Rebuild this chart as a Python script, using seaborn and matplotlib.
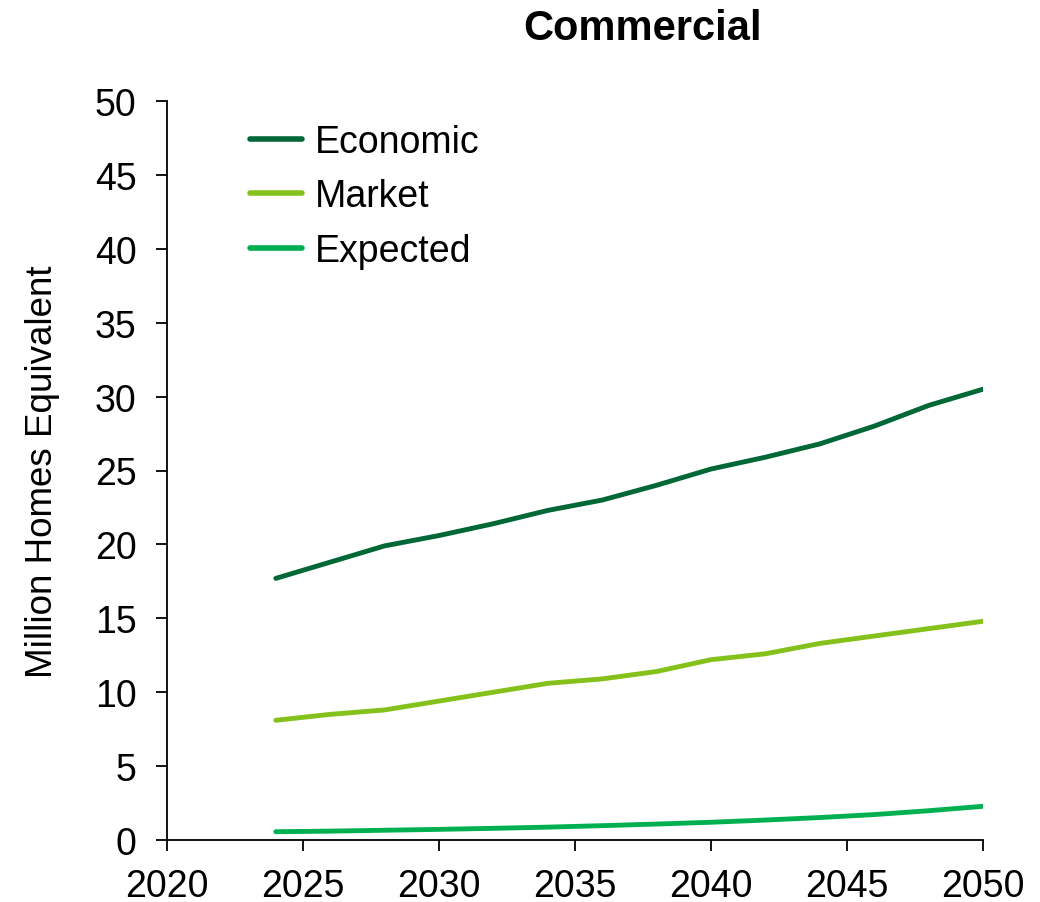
import pandas as pd
import matplotlib.pyplot as plt
import seaborn as sns

# ============================================================
# 数据
# ============================================================

years = [2024, 2026, 2028, 2030, 2032, 2034, 2036, 2038, 2040, 2042, 2044, 2046, 2048, 2050]
economic = [17.7, 18.8, 19.9, 20.6, 21.4, 22.3, 23.0, 24.0, 25.1, 25.9, 26.8, 28.0, 29.4, 30.5]
market = [8.1, 8.5, 8.8, 9.4, 10.0, 10.6, 10.9, 11.4, 12.2, 12.6, 13.3, 13.8, 14.3, 14.8]
expected = [0.56, 0.60, 0.66, 0.72, 0.79, 0.87, 0.97, 1.08, 1.20, 1.35, 1.52, 1.72, 1.98, 2.28]

series_names = ["Economic", "Market", "Expected"]
series_colors = ["#006837", "#84C21B", "#00B050"]

x_ticks = [2020, 2025, 2030, 2035, 2040, 2045, 2050]
y_ticks = [0, 5, 10, 15, 20, 25, 30, 35, 40, 45, 50]

# ============================================================
# 样式
# ============================================================

sns.set_theme(style="ticks")
plt.rcParams["font.family"] = ["Liberation Sans", "DejaVu Sans"]
plt.rcParams["text.color"] = "black"

df = pd.DataFrame({
    "year": years * 3,
    "value": economic + market + expected,
    "series": [n for n in series_names for _ in years],
})

fig = plt.figure(figsize=(10.4, 9.03), dpi=100)
ax = fig.add_axes([167 / 1040, 1 - 841 / 903, (983 - 167) / 1040, (841 - 102) / 903])

sns.lineplot(
    data=df, x="year", y="value", hue="series",
    hue_order=series_names, palette=series_colors,
    linewidth=3.5, ax=ax, solid_capstyle="round",
)

ax.set_xlim(2020, 2050)
ax.set_ylim(0, 50)
ax.set_xticks(x_ticks)
ax.set_yticks(y_ticks)
ax.tick_params(axis="both", labelsize=27, length=8, width=1.3, color="black",
               labelcolor="black", direction="out")
ax.tick_params(axis="y", pad=14)
ax.tick_params(axis="x", pad=12)
for s in ["top", "right"]:
    ax.spines[s].set_visible(False)
for s in ["left", "bottom"]:
    ax.spines[s].set_color("black")
    ax.spines[s].set_linewidth(1.3)

ax.set_xlabel("")
ax.set_ylabel("Million Homes Equivalent", fontsize=26.5, color="black", labelpad=25)

fig.text(643 / 1040, 1 - 29 / 903, "Commercial", fontsize=30, fontweight="bold",
         ha="center", va="center", color="black")

leg = ax.legend(loc="upper left", bbox_to_anchor=(0.060, 1.015), frameon=False,
                fontsize=27, handlelength=1.4, handletextpad=0.35, labelspacing=0.5)
for text in leg.get_texts():
    text.set_color("black")
for line in leg.get_lines():
    line.set_linewidth(4)

fig.savefig("out.png", dpi=100)
